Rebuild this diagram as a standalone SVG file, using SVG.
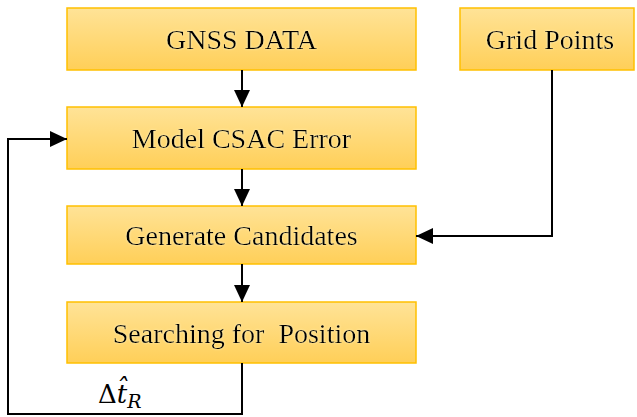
<svg xmlns="http://www.w3.org/2000/svg" width="637" height="417" viewBox="0 0 637 417">
  <defs>
    <linearGradient id="boxFill" x1="0" y1="0" x2="0" y2="1">
      <stop offset="0" stop-color="#FFE397"/>
      <stop offset="1" stop-color="#FFCF58"/>
    </linearGradient>
    <marker id="arrow" markerWidth="17" markerHeight="16" refX="17" refY="8" orient="auto" markerUnits="userSpaceOnUse">
      <path d="M0,0 L17,8 L0,16 Z" fill="#000"/>
    </marker>
    <filter id="glow" x="-10%" y="-30%" width="120%" height="160%">
      <feGaussianBlur in="SourceAlpha" stdDeviation="1.2" result="blur"/>
      <feFlood flood-color="#FFF6C8" flood-opacity="0.8"/>
      <feComposite operator="in" in2="blur" result="halo"/>
      <feMerge>
        <feMergeNode in="halo"/>
        <feMergeNode in="SourceGraphic"/>
      </feMerge>
    </filter>
  </defs>
  <style>
    .box { fill: url(#boxFill); stroke: #FFC000; stroke-width: 1.5; }
    .label { font-family: "Liberation Serif", "Times New Roman", serif; font-size: 28px; fill: #000; text-anchor: middle; filter: url(#glow); }
    .wire { fill: none; stroke: #000; stroke-width: 2; }
    .math { font-family: "DejaVu Serif", "Liberation Serif", serif; fill: #000; }
  </style>
  <rect width="637" height="417" fill="#fff"/>

  <g id="gnss-data">
    <rect class="box" x="67" y="8" width="349" height="62"/>
    <text class="label" x="241.5" y="49">GNSS DATA</text>
  </g>
  <g id="grid-points">
    <rect class="box" x="460" y="8" width="174" height="62"/>
    <text class="label" x="550" y="49">Grid Points</text>
  </g>
  <g id="model-csac-error">
    <rect class="box" x="67" y="107" width="349" height="62"/>
    <text class="label" x="241.5" y="148">Model CSAC Error</text>
  </g>
  <g id="generate-candidates">
    <rect class="box" x="67" y="206" width="349" height="58"/>
    <text class="label" x="241.5" y="245">Generate Candidates</text>
  </g>
  <g id="searching-position">
    <rect class="box" x="67" y="302" width="349" height="61"/>
    <text class="label" x="241.5" y="343" xml:space="preserve">Searching for  Position</text>
  </g>

  <g id="connectors">
    <path class="wire" d="M242,70 V107" marker-end="url(#arrow)"/>
    <path class="wire" d="M242,169 V206" marker-end="url(#arrow)"/>
    <path class="wire" d="M242,264 V302" marker-end="url(#arrow)"/>
    <path class="wire" d="M552,70 V236 H416" marker-end="url(#arrow)"/>
    <path class="wire" d="M242,363 V414 H8 V139 H67" marker-end="url(#arrow)"/>
    <text id="feedback-label" class="math" x="98" y="403" font-size="26">Δ<tspan font-style="italic">t̂</tspan><tspan font-style="italic" font-size="19" dy="5">R</tspan></text>
  </g>
</svg>
